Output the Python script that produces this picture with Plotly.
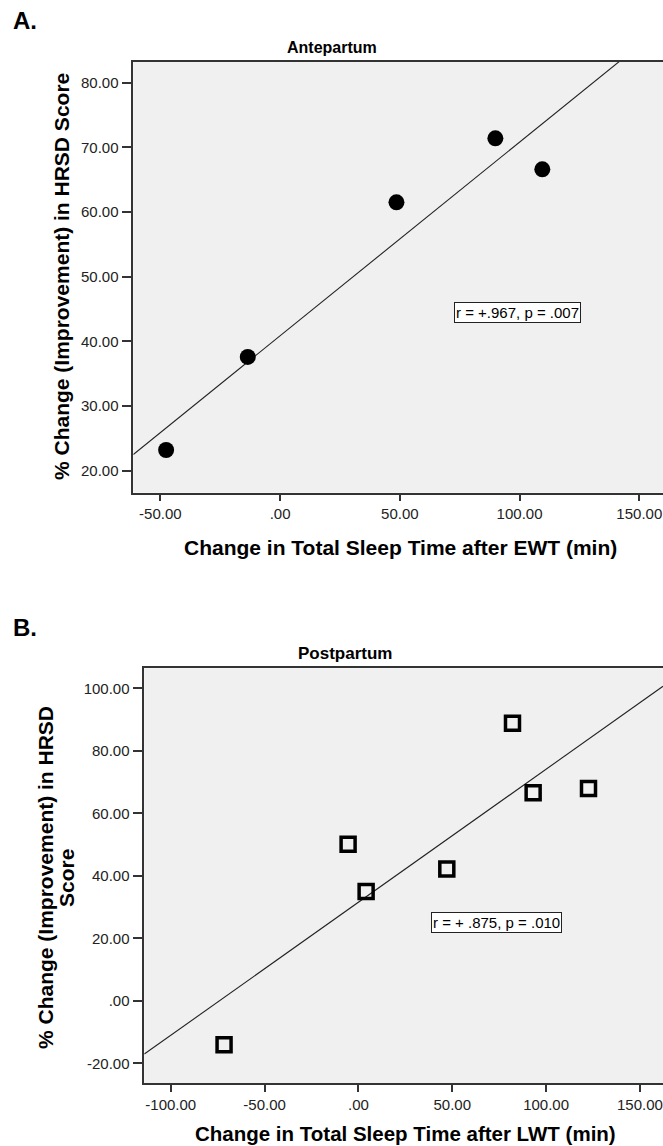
import numpy as np
import plotly.graph_objects as go

# ---------------- data ----------------
ante_x = [-47.6, -13.5, 48.6, 89.9, 109.5]
ante_y = [23.2, 37.6, 61.5, 71.4, 66.6]

post_x = [-71.6, -5.5, 4.1, 47.1, 82.1, 93.1, 122.6]
post_y = [-14.1, 50.1, 35.0, 42.2, 88.8, 66.6, 67.9]

ante_xticks = [-50, 0, 50, 100, 150]
ante_xtext = ["-50.00", ".00", "50.00", "100.00", "150.00"]
ante_yticks = [20, 30, 40, 50, 60, 70, 80]
ante_ytext = ["20.00", "30.00", "40.00", "50.00", "60.00", "70.00", "80.00"]

post_xticks = [-100, -50, 0, 50, 100, 150]
post_xtext = ["-100.00", "-50.00", ".00", "50.00", "100.00", "150.00"]
post_yticks = [-20, 0, 20, 40, 60, 80, 100]
post_ytext = ["-20.00", ".00", "20.00", "40.00", "60.00", "80.00", "100.00"]

ante_stat = "r = +.967, p = .007"
post_stat = "r = + .875, p = .010"

# ---------------- layout constants ----------------
W, H = 663, 1146
FONT = "Liberation Sans, Arial, sans-serif"
A_XRANGE = [-61.3, 159.9]
A_YRANGE = [16.6, 83.25]
B_XRANGE = [-114.1, 162.3]
B_YRANGE = [-26.4, 106.4]

def px_x(p):
    return p / W

def px_y(p):
    return 1 - p / H

fig = go.Figure()

# fit lines
ca = np.polyfit(ante_x, ante_y, 1)
cb = np.polyfit(post_x, post_y, 1)
fig.add_trace(go.Scatter(x=A_XRANGE, y=list(np.polyval(ca, A_XRANGE)), mode="lines",
                         line=dict(color="#222222", width=1.1), xaxis="x", yaxis="y",
                         showlegend=False, hoverinfo="skip"))
fig.add_trace(go.Scatter(x=B_XRANGE, y=list(np.polyval(cb, B_XRANGE)), mode="lines",
                         line=dict(color="#222222", width=1.1), xaxis="x2", yaxis="y2",
                         showlegend=False, hoverinfo="skip"))

# points
fig.add_trace(go.Scatter(x=ante_x, y=ante_y, mode="markers",
                         marker=dict(symbol="circle", size=16, color="black"),
                         xaxis="x", yaxis="y", showlegend=False))
fig.add_trace(go.Scatter(x=post_x, y=post_y, mode="markers",
                         marker=dict(symbol="square-open", size=14, color="black",
                                     line=dict(width=3.5, color="black")),
                         xaxis="x2", yaxis="y2", showlegend=False))

axis_common = dict(showline=True, linecolor="#333333", linewidth=1.5,
                   ticks="outside", tickwidth=1.5, tickcolor="#333333",
                   showgrid=False, zeroline=False,
                   tickfont=dict(family=FONT, size=15, color="#222222"))

fig.update_layout(
    width=W, height=H, autosize=False,
    margin=dict(l=0, r=0, t=0, b=0),
    paper_bgcolor="white", plot_bgcolor="#f0f0f0",
    xaxis=dict(domain=[px_x(133.3), 1.0], range=A_XRANGE, anchor="y", mirror=True,
               tickvals=ante_xticks, ticktext=ante_xtext, ticklen=7, **axis_common),
    yaxis=dict(domain=[px_y(492.7), px_y(61.7)], range=A_YRANGE, anchor="x",
               tickvals=ante_yticks, ticktext=ante_ytext, ticklen=10, **axis_common),
    xaxis2=dict(domain=[px_x(144.3), 1.0], range=B_XRANGE, anchor="y2", mirror=True,
                tickvals=post_xticks, ticktext=post_xtext, ticklen=7, **axis_common),
    yaxis2=dict(domain=[px_y(1083.3), px_y(668.3)], range=B_YRANGE, anchor="x2",
                tickvals=post_yticks, ticktext=post_ytext, ticklen=10, **axis_common),
)

bold = lambda s: f"<b>{s}</b>"
ann = []
# panel letters
ann.append(dict(text=bold("A."), x=px_x(11), y=px_y(20.5), xref="paper", yref="paper",
                xanchor="left", yanchor="middle", showarrow=False,
                font=dict(family=FONT, size=24, color="black")))
ann.append(dict(text=bold("B."), x=px_x(11), y=px_y(627.5), xref="paper", yref="paper",
                xanchor="left", yanchor="middle", showarrow=False,
                font=dict(family=FONT, size=24, color="black")))
# panel titles
ann.append(dict(text=bold("Antepartum"), x=px_x(332), y=px_y(47.5), xref="paper", yref="paper",
                xanchor="center", yanchor="middle", showarrow=False,
                font=dict(family=FONT, size=16, color="black")))
ann.append(dict(text=bold("Postpartum"), x=px_x(345), y=px_y(653), xref="paper", yref="paper",
                xanchor="center", yanchor="middle", showarrow=False,
                font=dict(family=FONT, size=17, color="black")))
# x titles
ann.append(dict(text=bold("Change in Total Sleep Time after EWT (min)"), x=px_x(400), y=px_y(547),
                xref="paper", yref="paper", xanchor="center", yanchor="middle", showarrow=False,
                font=dict(family=FONT, size=21, color="black")))
ann.append(dict(text=bold("Change in Total Sleep Time after LWT (min)"), x=px_x(405.7), y=px_y(1133),
                xref="paper", yref="paper", xanchor="center", yanchor="middle", showarrow=False,
                font=dict(family=FONT, size=20.5, color="black")))
# y titles
ann.append(dict(text=bold("% Change (Improvement) in HRSD Score"), x=px_x(61), y=px_y(277),
                xref="paper", yref="paper", xanchor="center", yanchor="middle", showarrow=False,
                textangle=-90, font=dict(family=FONT, size=21, color="black")))
ann.append(dict(text=bold("% Change (Improvement) in HRSD"), x=px_x(45), y=px_y(878),
                xref="paper", yref="paper", xanchor="center", yanchor="middle", showarrow=False,
                textangle=-90, font=dict(family=FONT, size=21, color="black")))
ann.append(dict(text=bold("Score"), x=px_x(66), y=px_y(878),
                xref="paper", yref="paper", xanchor="center", yanchor="middle", showarrow=False,
                textangle=-90, font=dict(family=FONT, size=21, color="black")))
# stat boxes
ann.append(dict(text=ante_stat, x=99.0, y=44.4, xref="x", yref="y",
                xanchor="center", yanchor="middle", showarrow=False,
                bgcolor="white", bordercolor="#222222", borderwidth=1, borderpad=1,
                font=dict(family=FONT, size=15, color="black")))
ann.append(dict(text=post_stat, x=73.6, y=25.0, xref="x2", yref="y2",
                xanchor="center", yanchor="middle", showarrow=False,
                bgcolor="white", bordercolor="#222222", borderwidth=1, borderpad=1,
                font=dict(family=FONT, size=15, color="black")))
fig.update_layout(annotations=ann)

fig.write_html("out.html",
               config={"displayModeBar": False},
               post_script="document.body.style.margin='0';document.body.style.overflow='hidden';")
